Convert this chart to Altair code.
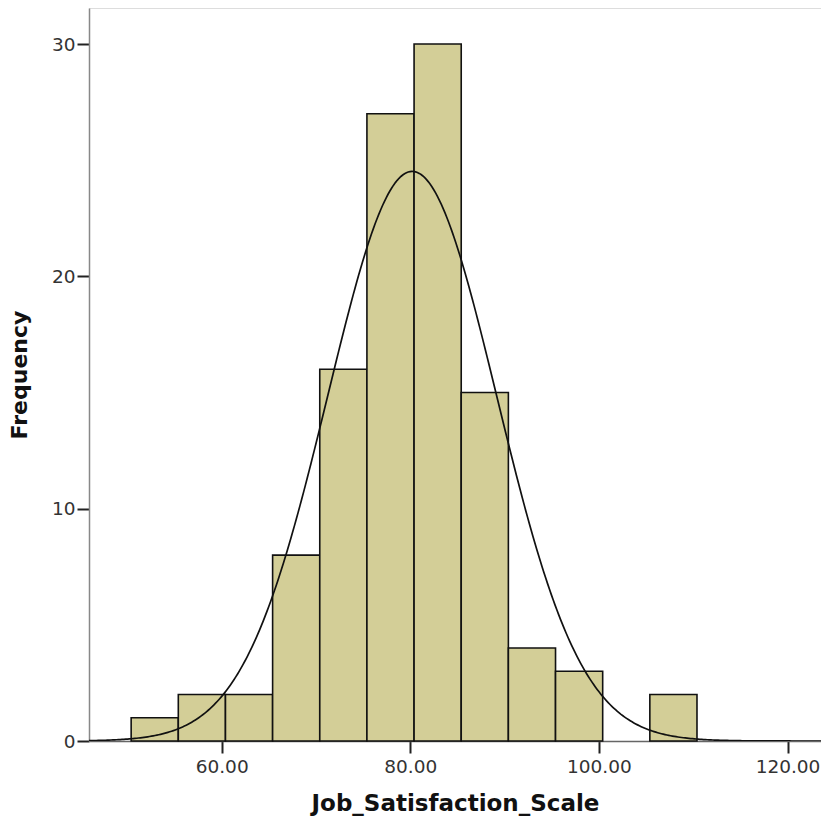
import altair as alt
import numpy as np
import pandas as pd

# Histogram data (bin start, bin end, frequency)
bin_starts = [50.4, 55.4, 60.4, 65.4, 70.4, 75.4, 80.4, 85.4, 90.4, 95.4, 105.4]
bin_ends = [55.4, 60.4, 65.4, 70.4, 75.4, 80.4, 85.4, 90.4, 95.4, 100.4, 110.4]
counts = [1, 2, 2, 8, 16, 27, 30, 15, 4, 3, 2]

# Normal-curve parameters (SPSS overlay)
n_total = 110
bin_width = 5.0
mean = 80.2
sd = 8.95

x_ticks = [60, 80, 100, 120]
y_ticks = [0, 10, 20, 30]
x_domain = [45.93, 123.55]
y_domain = [0, 31.55]

bars = pd.DataFrame({"start": bin_starts, "end": bin_ends, "count": counts})

xs = np.linspace(x_domain[0], x_domain[1], 400)
ys = n_total * bin_width * np.exp(-0.5 * ((xs - mean) / sd) ** 2) / (sd * np.sqrt(2 * np.pi))
curve = pd.DataFrame({"x": xs, "y": ys})

xscale = alt.Scale(domain=x_domain, nice=False, zero=False)
yscale = alt.Scale(domain=y_domain, nice=False)

x_axis = alt.Axis(
    values=x_ticks, format=".2f", title="Job_Satisfaction_Scale",
    grid=False, domainColor="#666666", domainWidth=1.5, tickColor="#222222",
    tickSize=12, tickWidth=2, labelFont="DejaVu Sans", labelFontSize=18.5,
    labelColor="#333333", labelPadding=4, titleFont="DejaVu Sans",
    titleFontSize=23, titleFontWeight="bold", titleColor="#111111",
    titlePadding=17,
)
y_axis = alt.Axis(
    values=y_ticks, format="d", title="Frequency",
    grid=False, domainColor="#888888", domainWidth=1.5, tickColor="#222222",
    tickSize=12, tickWidth=2, labelFont="DejaVu Sans", labelFontSize=18.5,
    labelColor="#333333", labelPadding=2, titleFont="DejaVu Sans",
    titleFontSize=22, titleFontWeight="bold", titleColor="#111111",
    titlePadding=20,
)

hist = alt.Chart(bars).mark_rect(
    fill="#D3CE97", stroke="#111111", strokeWidth=1.6
).encode(
    x=alt.X("start:Q", scale=xscale, axis=x_axis),
    x2="end:Q",
    y=alt.Y("count:Q", scale=yscale, axis=y_axis),
    y2=alt.datum(0),
)

line = alt.Chart(curve).mark_line(
    color="#111111", strokeWidth=1.7, clip=True
).encode(
    x=alt.X("x:Q", scale=xscale),
    y=alt.Y("y:Q", scale=yscale),
)

chart = alt.layer(hist, line).properties(
    width=732, height=733,
    autosize=alt.AutoSizeParams(type="none"),
    padding={"left": 89, "top": 8, "right": 0, "bottom": 81},
).configure_view(stroke=None).configure(background="white")

chart.save("out.html", embed_options={"renderer": "svg", "actions": False})
